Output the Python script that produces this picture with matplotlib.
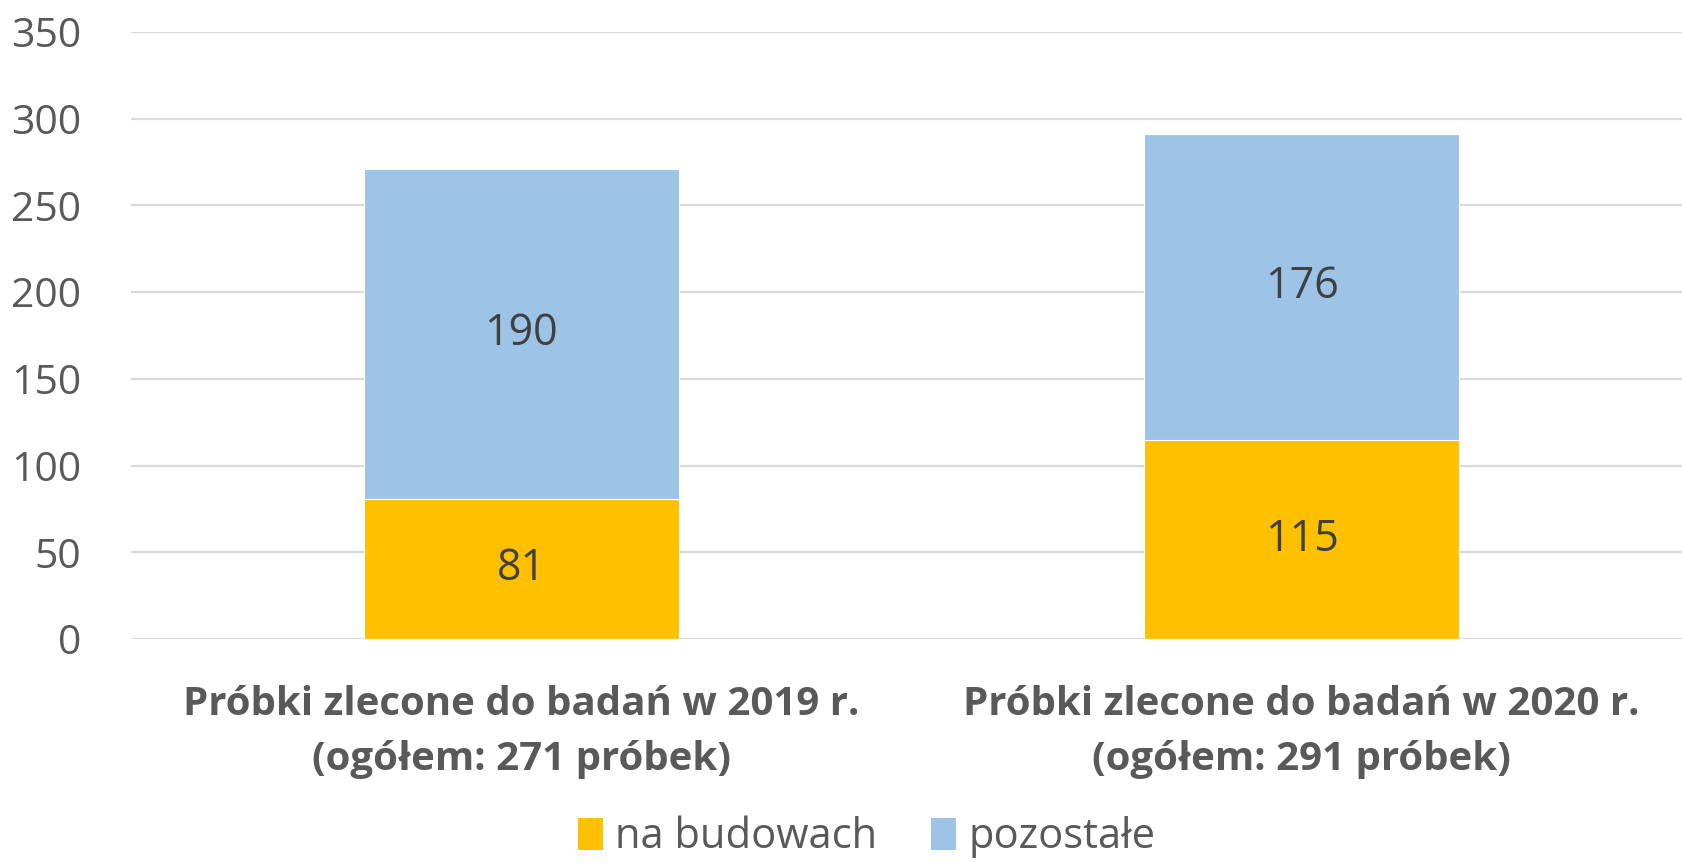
import matplotlib
matplotlib.use("Agg")
import matplotlib.pyplot as plt
from matplotlib.patches import Patch

plt.rcParams["font.family"] = ["Open Sans", "DejaVu Sans"]

categories = [
    "Próbki zlecone do badań w 2019 r.\n(ogółem: 271 próbek)",
    "Próbki zlecone do badań w 2020 r.\n(ogółem: 291 próbek)",
]
series_names = ["na budowach", "pozostałe"]
na_budowach = [81, 115]
pozostale = [190, 176]
colors = ["#FFC000", "#9DC3E6"]

fig = plt.figure(figsize=(16.83, 8.63), dpi=100)
ax = fig.add_axes([131 / 1683, 1 - 639 / 863, 1561 / 1683, (639 - 32) / 863])

x = list(range(len(categories)))
width = 0.403
b1 = ax.bar(x, na_budowach, width, color=colors[0], edgecolor="white", linewidth=0.8, zorder=3)
b2 = ax.bar(x, pozostale, width, bottom=na_budowach, color=colors[1], edgecolor="white",
            linewidth=0.8, zorder=3)

for bars, vals, bottoms in [(b1, na_budowach, [0, 0]), (b2, pozostale, na_budowach)]:
    for rect, v, b in zip(bars, vals, bottoms):
        ax.text(rect.get_x() + rect.get_width() / 2, b + v / 2, str(v),
                ha="center", va="center", fontsize=31, color="#404040", zorder=4)

ax.set_xlim(-0.5, 1.5)
ax.set_ylim(0, 350)
ax.set_yticks(range(0, 351, 50))
ax.yaxis.grid(True, color="#D9D9D9", linewidth=1.6, zorder=0)
ax.set_axisbelow(True)
for s in ax.spines.values():
    s.set_visible(False)
ax.tick_params(axis="both", length=0)
ax.tick_params(axis="y", labelsize=29.5, labelcolor="#595959", pad=36)
ax.set_xticks(x)
ax.set_xticklabels(categories, fontsize=29, fontweight="bold", color="#595959", linespacing=1.55)
ax.tick_params(axis="x", pad=33)

handles = [Patch(facecolor=c, edgecolor="none") for c in colors]
fig.legend(handles, series_names, loc="center", bbox_to_anchor=(0.515, 0.03), ncol=2,
           frameon=False, fontsize=30, labelcolor="#595959", handlelength=0.6,
           handleheight=0.8, handletextpad=0.3, columnspacing=1.3)

fig.savefig("out.png", dpi=100)
